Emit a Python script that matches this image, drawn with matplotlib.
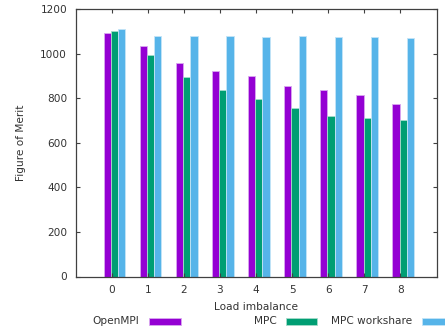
import matplotlib
matplotlib.use("Agg")
import matplotlib.pyplot as plt
import numpy as np

categories = ["0", "1", "2", "3", "4", "5", "6", "7", "8"]
openmpi = [1091, 1035, 960, 921, 899, 853, 838, 812, 776]
mpc = [1102, 995, 896, 835, 796, 758, 718, 713, 701]
mpc_workshare = [1111, 1080, 1077, 1077, 1074, 1077, 1074, 1074, 1070]
series_names = ["OpenMPI", "MPC", "MPC workshare"]
colors = ["#9400D3", "#009E73", "#56B4E9"]
edges = ["#D9A8F0", "#A6DCCB", "#C4E4F7"]

plt.rcParams['font.family'] = ['DejaVu Sans']
txt = "#333333"
fs = 7.6

fig = plt.figure(figsize=(4.45, 3.3), dpi=100)
ax = fig.add_axes([75.5/445, (330-276.5)/330, (436.5-75.5)/445, (276.5-9)/330])

x = np.arange(len(categories))
w = 0.2
offsets = [-0.12, 0.08, 0.28]
for vals, off, c, e in zip([openmpi, mpc, mpc_workshare], offsets, colors, edges):
    ax.bar(x + off, vals, width=w, color=c, edgecolor=e, linewidth=0.6)

ax.set_xlim(-1, 9)
ax.set_ylim(0, 1200)
ax.set_xticks(x)
ax.set_xticklabels(categories)
ax.set_yticks(np.arange(0, 1201, 200))
ax.tick_params(direction='in', length=3, width=0.8, top=True, right=True,
               labelsize=fs, colors="#404040", labelcolor=txt, pad=6)
for s in ax.spines.values():
    s.set_color("#404040")
    s.set_linewidth(0.9)

ax.set_xlabel("Load imbalance", fontsize=fs, color=txt, labelpad=5)
ax.set_ylabel("Figure of Merit", fontsize=fs, color=txt, labelpad=10)

leg_y = 321.5
items = [(139, 149, 181), (277, 286, 317), (412, 422, 455)]
for (tx, s0, s1), name, c, e in zip(items, series_names, colors, edges):
    fig.text(tx/445, 1 - leg_y/330, name, ha='right', va='center', fontsize=fs, color=txt)
    fig.patches.append(matplotlib.patches.Rectangle((s0/445, 1 - (leg_y+3.5)/330),
                       (s1-s0)/445, 7/330, transform=fig.transFigure,
                       facecolor=c, edgecolor=e, linewidth=0.6))

fig.savefig("out.png", dpi=100)
